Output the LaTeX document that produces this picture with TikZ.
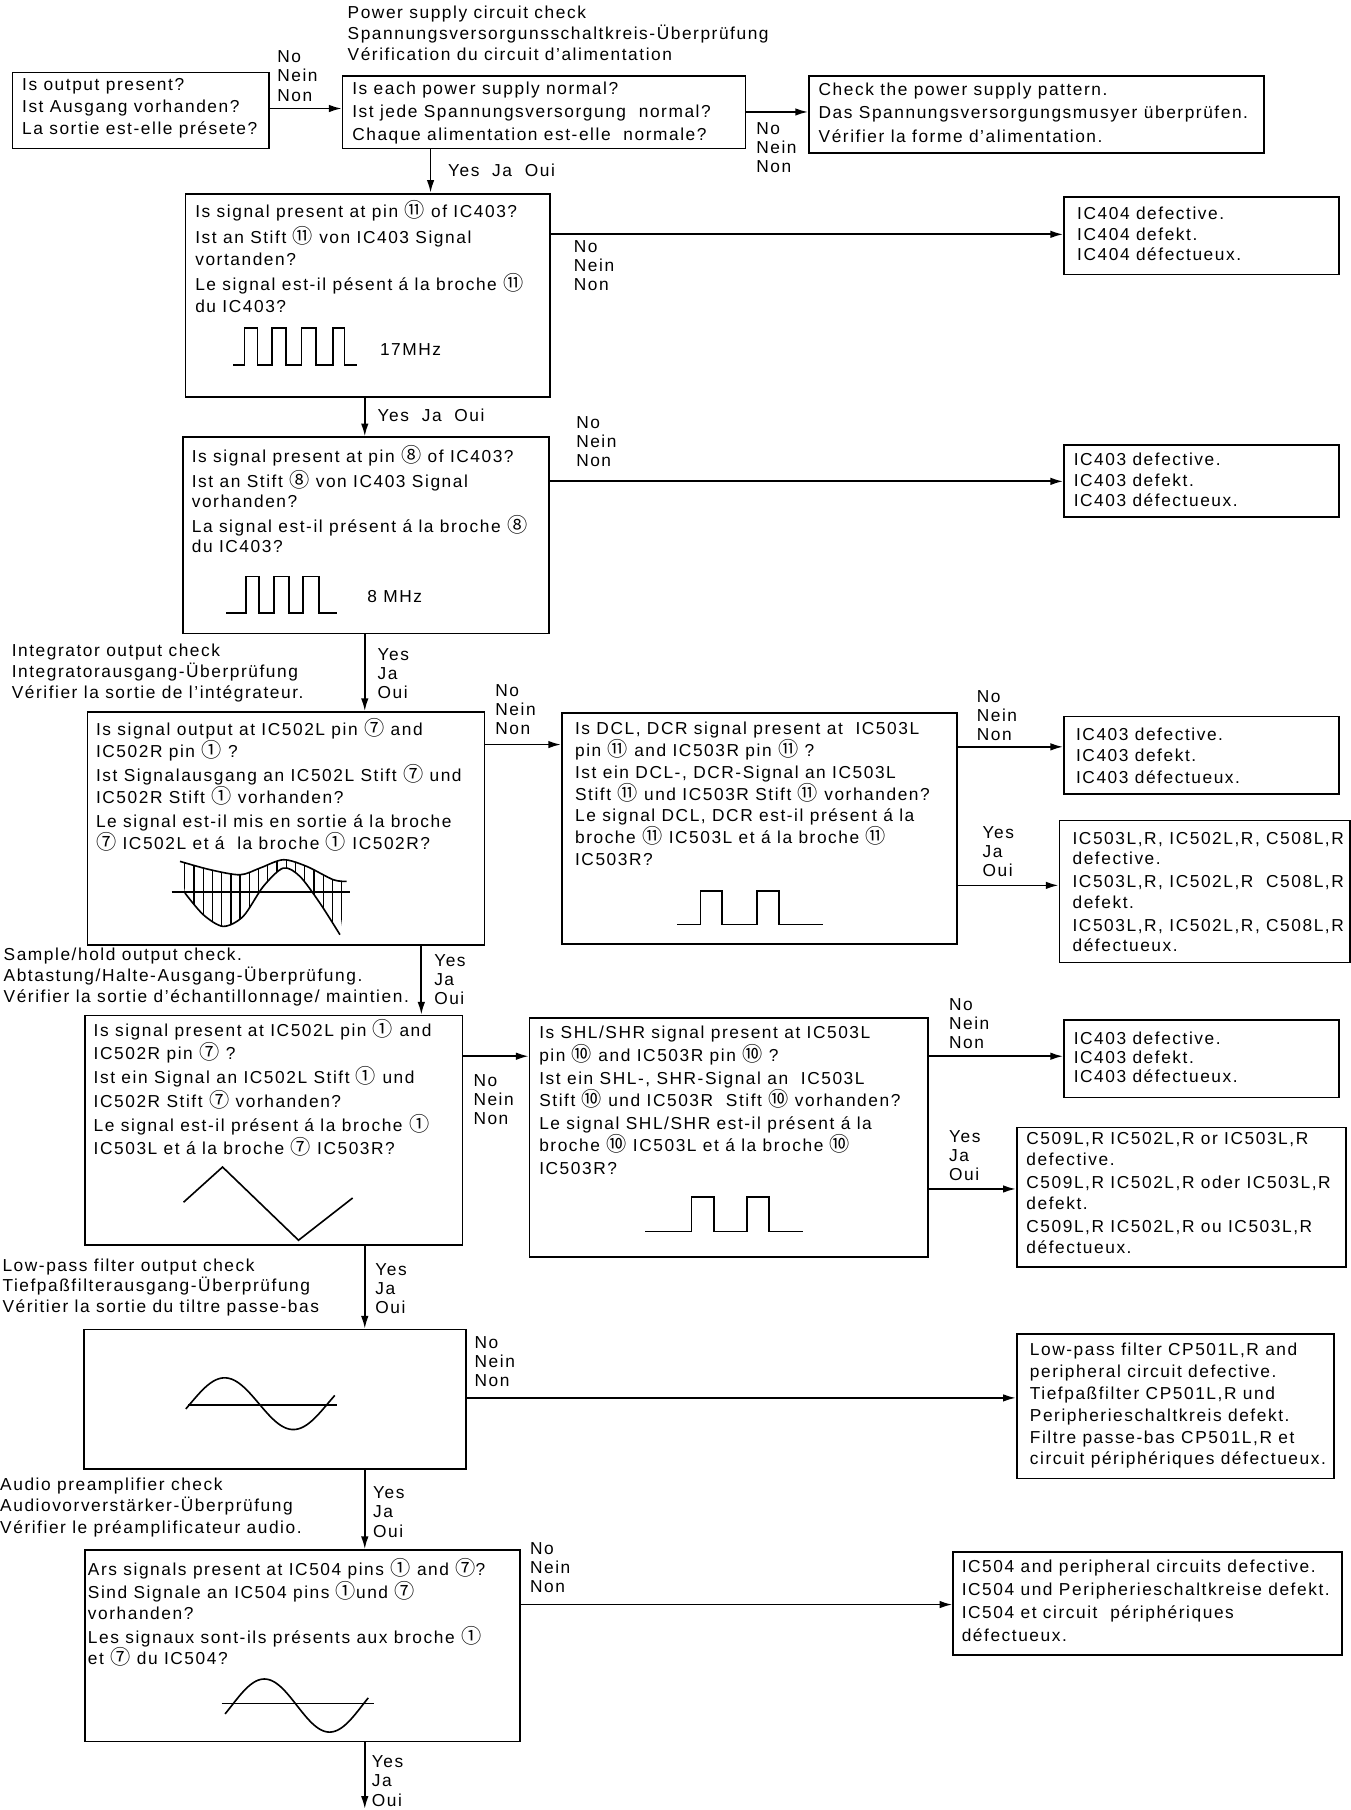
\documentclass[tikz,border=0pt]{standalone}
\usepackage{fontspec}
\setmainfont[LetterSpace=9]{Liberation Sans}
\newfontfamily\circfont{Noto Sans CJK JP}
\usetikzlibrary{arrows.meta}
\newcommand\pin[1]{{\circfont\fontsize{17.5}{17.5}\selectfont #1}}
\tikzset{>={Latex[length=11pt,width=6.5pt]}}

\begin{document}
\begin{tikzpicture}[x=1pt,y=-1pt,
    box/.style={draw, line width=1.5pt, anchor=north west, inner sep=0pt},
    txt/.style={anchor=north west, inner sep=0pt, align=left, font=\fontsize{15}{19}\selectfont},
    lbl/.style={anchor=north west, inner sep=0pt, align=left, font=\fontsize{15}{16.5}\selectfont},
    flow/.style={->, line width=1.5pt},
    wave/.style={line width=1.4pt}]
    \useasboundingbox (0,0) rectangle (1170,1568);

    % boxes
    \node[box, minimum width=222pt, minimum height=66pt] (A) at (10,62) {};
    \node[box, minimum width=349pt, minimum height=63pt] (B) at (296,65) {};
    \node[box, minimum width=394pt, minimum height=67pt] (P) at (700,65) {};
    \node[box, minimum width=316pt, minimum height=176pt] (Q1) at (160,167) {};
    \node[box, minimum width=238pt, minimum height=67pt] (D1) at (921,170) {};
    \node[box, minimum width=317pt, minimum height=170pt] (Q2) at (158,378) {};
    \node[box, minimum width=238pt, minimum height=62pt] (D2) at (921,385) {};
    \node[box, minimum width=344pt, minimum height=202pt] (Q3) at (75,616) {};
    \node[box, minimum width=342pt, minimum height=200pt] (DC) at (486,617) {};
    \node[box, minimum width=238pt, minimum height=67pt] (D3) at (921,620) {};
    \node[box, minimum width=252pt, minimum height=123pt] (D4) at (917,710) {};
    \node[box, minimum width=327pt, minimum height=199pt] (Q4) at (73,879) {};
    \node[box, minimum width=345pt, minimum height=207pt] (SH) at (458,881) {};
    \node[box, minimum width=238pt, minimum height=67pt] (D5) at (921,883) {};
    \node[box, minimum width=285pt, minimum height=121pt] (D6) at (880,976) {};
    \node[box, minimum width=331pt, minimum height=121pt] (LP) at (72,1151) {};
    \node[box, minimum width=275pt, minimum height=125pt] (D7) at (880,1155) {};
    \node[box, minimum width=377pt, minimum height=166pt] (Q6) at (73,1342) {};
    \node[box, minimum width=337pt, minimum height=89pt] (D8) at (825,1344) {};

    % texts in the boxes
    \node[txt] (At) at (19,68) {Is output present?\\Ist Ausgang vorhanden?\\La sortie est-elle présete?};
    \node[txt, font=\fontsize{15}{20}\selectfont] (Bt) at (305,71) {Is each power supply normal?\\Ist jede Spannungsversorgung\ \ normal?\\Chaque alimentation est-elle\ \ normale?};
    \node[txt, font=\fontsize{15}{20}\selectfont] (Pt) at (709,72) {Check the power supply pattern.\\Das Spannungsversorgungsmusyer überprüfen.\\Vérifier la forme d’alimentation.};
    \node[txt] (Q1t) at (169,173) {Is signal present at pin \pin{⑪} of IC403?\\[4pt]Ist an Stift \pin{⑪} von IC403 Signal\\vortanden?\\[3pt]Le signal est-il pésent á la broche \pin{⑪}\\du IC403?};
    \node[txt, anchor=west] (f1) at (329,303) {17MHz};
    \node[txt, font=\fontsize{15}{18}\selectfont] (D1t) at (933,179) {IC404 defective.\\IC404 defekt.\\IC404 défectueux.};
    \node[txt, font=\fontsize{15}{18}\selectfont] (Q2t) at (166,386) {Is signal present at pin \pin{⑧} of IC403?\\[3pt]Ist an Stift \pin{⑧} von IC403 Signal\\vorhanden?\\[3pt]La signal est-il présent á la broche \pin{⑧}\\du IC403?};
    \node[txt, anchor=west] (f2) at (318,517) {8 MHz};
    \node[txt, font=\fontsize{15}{18}\selectfont] (D2t) at (930,392) {IC403 defective.\\IC403 defekt.\\IC403 défectueux.};
    \node[txt] (Q3t) at (83,622) {Is signal output at IC502L pin \pin{⑦} and\\IC502R pin \pin{①} ?\\[2pt]Ist Signalausgang an IC502L Stift \pin{⑦} und\\IC502R Stift \pin{①} vorhanden?\\[2pt]Le signal est-il mis en sortie á la broche\\\pin{⑦} IC502L et á\ \ la broche \pin{①} IC502R?};
    \node[txt] (DCt) at (498,625) {Is DCL, DCR signal present at\ \ IC503L\\pin \pin{⑪} and IC503R pin \pin{⑪} ?\\Ist ein DCL-, DCR-Signal an IC503L\\Stift \pin{⑪} und IC503R Stift \pin{⑪} vorhanden?\\Le signal DCL, DCR est-il présent á la\\broche \pin{⑪} IC503L et á la broche \pin{⑪}\\IC503R?};
    \node[txt] (D3t) at (932,630) {IC403 defective.\\IC403 defekt.\\IC403 défectueux.};
    \node[txt, font=\fontsize{15}{17.5}\selectfont] (D4t) at (929,721) {IC503L,R, IC502L,R, C508L,R\\defective.\\[2.5pt]IC503L,R, IC502L,R\ \ C508L,R\\defekt.\\[2.5pt]IC503L,R, IC502L,R, C508L,R\\défectueux.};
    \node[txt, font=\fontsize{15}{20}\selectfont] (Q4t) at (81,883) {Is signal present at IC502L pin \pin{①} and\\IC502R pin \pin{⑦} ?\\[1pt]Ist ein Signal an IC502L Stift \pin{①} und\\IC502R Stift \pin{⑦} vorhanden?\\[1pt]Le signal est-il présent á la broche \pin{①}\\IC503L et á la broche \pin{⑦} IC503R?};
    \node[txt, font=\fontsize{15}{19.5}\selectfont] (SHt) at (467,889) {Is SHL/SHR signal present at IC503L\\pin \pin{⑩} and IC503R pin \pin{⑩} ?\\Ist ein SHL-, SHR-Signal an\ \ IC503L\\Stift \pin{⑩} und IC503R\ \ Stift \pin{⑩} vorhanden?\\Le signal SHL/SHR est-il présent á la\\broche \pin{⑩} IC503L et á la broche \pin{⑩}\\IC503R?};
    \node[txt, font=\fontsize{15}{16.5}\selectfont] (D5t) at (930,894) {IC403 defective.\\IC403 defekt.\\IC403 défectueux.};
    \node[txt, font=\fontsize{15}{18}\selectfont] (D6t) at (889,981) {C509L,R IC502L,R or IC503L,R\\defective.\\[2pt]C509L,R IC502L,R oder IC503L,R\\defekt.\\[2pt]C509L,R IC502L,R ou IC503L,R\\défectueux.};
    \node[txt] (D7t) at (892,1163) {Low-pass filter CP501L,R and\\peripheral circuit defective.\\Tiefpaßfilter CP501L,R und\\Peripherieschaltkreis defekt.\\Filtre passe-bas CP501L,R et\\circuit périphériques défectueux.};
    \node[txt, font=\fontsize{15}{18}\selectfont] (Q6t) at (76,1350) {Ars signals present at IC504 pins \pin{①} and \pin{⑦}?\\[2pt]Sind Signale an IC504 pins \pin{①}und \pin{⑦}\\vorhanden?\\[3pt]Les signaux sont-ils présents aux broche \pin{①}\\et \pin{⑦} du IC504?};
    \node[txt, font=\fontsize{15}{20}\selectfont] (D8t) at (833,1351) {IC504 and peripheral circuits defective.\\IC504 und Peripherieschaltkreise defekt.\\IC504 et circuit\ \ périphériques\\défectueux.};

    % section titles
    \node[txt, font=\fontsize{15}{18}\selectfont] (h1) at (301,5) {Power supply circuit check\\Spannungsversorgunsschaltkreis-Überprüfung\\Vérification du circuit d’alimentation};
    \node[txt, font=\fontsize{15}{18}\selectfont] (h2) at (10,558) {Integrator output check\\Integratorausgang-Überprüfung\\Vérifier la sortie de l’intégrateur.};
    \node[txt, font=\fontsize{15}{18}\selectfont] (h3) at (3,821) {Sample/hold output check.\\Abtastung/Halte-Ausgang-Überprüfung.\\Vérifier la sortie d’échantillonnage/ maintien.};
    \node[txt, font=\fontsize{15}{18}\selectfont] (h4) at (2,1090) {Low-pass filter output check\\Tiefpaßfilterausgang-Überprüfung\\Véritier la sortie du tiltre passe-bas};
    \node[txt, font=\fontsize{15}{18.5}\selectfont] (h5) at (0,1280) {Audio preamplifier check\\Audiovorverstärker-Überprüfung\\Vérifier le préamplificateur audio.};

    % yes / no labels
    \node[lbl] (nA) at (240,44) {No\\Nein\\Non};
    \node[lbl] (nB) at (655,106) {No\\Nein\\Non};
    \node[lbl] (yB) at (388,142) {Yes\ \ Ja\ \ Oui};
    \node[lbl] (nQ1) at (497,208) {No\\Nein\\Non};
    \node[lbl] (yQ1) at (327,354) {Yes\ \ Ja\ \ Oui};
    \node[lbl] (nQ2) at (499,361) {No\\Nein\\Non};
    \node[lbl] (yQ2) at (327,562) {Yes\\Ja\\Oui};
    \node[lbl] (nQ3) at (429,593) {No\\Nein\\Non};
    \node[lbl] (nDC) at (846,598) {No\\Nein\\Non};
    \node[lbl] (yDC) at (851,716) {Yes\\Ja\\Oui};
    \node[lbl] (yQ3) at (376,827) {Yes\\Ja\\Oui};
    \node[lbl] (nQ4) at (410,931) {No\\Nein\\Non};
    \node[lbl] (nSH) at (822,865) {No\\Nein\\Non};
    \node[lbl] (ySH) at (822,979) {Yes\\Ja\\Oui};
    \node[lbl] (yQ4) at (325,1094) {Yes\\Ja\\Oui};
    \node[lbl] (nLP) at (411,1158) {No\\Nein\\Non};
    \node[lbl] (yLP) at (323,1288) {Yes\\Ja\\Oui};
    \node[lbl] (nQ6) at (459,1336) {No\\Nein\\Non};
    \node[lbl] (yQ6) at (322,1521) {Yes\\Ja\\Oui};

    % rows and columns of the connectors
    \coordinate (r1) at (0,94);
    \coordinate (r2) at (0,97);
    \coordinate (r3) at (0,203);
    \coordinate (r4) at (0,417);
    \coordinate (r5) at (0,645);
    \coordinate (r6) at (0,647);
    \coordinate (r7) at (0,767);
    \coordinate (r8) at (0,915);
    \coordinate (r9) at (0,1030);
    \coordinate (r10) at (0,1211);
    \coordinate (r11) at (0,1390);
    \coordinate (c1) at (373,0);
    \coordinate (c2) at (316,0);
    \coordinate (c3) at (365,0);
    \coordinate (fin) at (316,1567);

    \draw[flow] (A.east |- r1) -- (B.west |- r1);
    \draw[flow] (B.east |- r2) -- (P.west |- r2);
    \draw[flow] (B.south -| c1) -- (Q1.north -| c1);
    \draw[flow] (Q1.east |- r3) -- (D1.west |- r3);
    \draw[flow] (Q1.south -| c2) -- (Q2.north -| c2);
    \draw[flow] (Q2.east |- r4) -- (D2.west |- r4);
    \draw[flow] (Q2.south -| c2) -- (Q3.north -| c2);
    \draw[flow] (Q3.east |- r5) -- (DC.west |- r5);
    \draw[flow] (DC.east |- r6) -- (D3.west |- r6);
    \draw[flow] (DC.east |- r7) -- (D4.west |- r7);
    \draw[flow] (Q3.south -| c3) -- (Q4.north -| c3);
    \draw[flow] (Q4.east |- r8) -- (SH.west |- r8);
    \draw[flow] (SH.east |- r8) -- (D5.west |- r8);
    \draw[flow] (SH.east |- r9) -- (D6.west |- r9);
    \draw[flow] (Q4.south -| c2) -- (LP.north -| c2);
    \draw[flow] (LP.east |- r10) -- (D7.west |- r10);
    \draw[flow] (LP.south -| c2) -- (Q6.north -| c2);
    \draw[flow] (Q6.east |- r11) -- (D8.west |- r11);
    \draw[flow] (Q6.south -| c2) -- (fin);

    % waveforms
    \draw[wave] (202,316) -| (211.8,284.4) -| (223.1,316) -| (235.4,284.4) -| (247.7,316)
        -| (261.3,284.4) -| (273.7,316) -| (288.3,284.4) -| (298.6,316) -- (309,316);
    \draw[wave] (196,531) -| (213,499.4) -| (224.4,531) -| (237.4,499.4) -| (250.4,531)
        -| (262.7,499.4) -| (276.3,531) -- (291.8,531);
    \begin{scope}
        \clip plot[smooth] coordinates {(155.9,746.2) (181.9,753.4) (207.9,757.8) (225.2,752) (245.4,744.8) (265.6,750.5) (288.7,762.1) (300.2,763.5)}
            -- plot[smooth] coordinates {(294.5,809.7) (277.1,782.3) (259.8,759.2) (245.4,752) (228.1,767.9) (210.7,793.8) (193.4,802.5) (176.1,792.4) (160.2,773.6)} -- cycle;
        \foreach \x in {160,168,...,296}
            \draw[line width=1.1pt] (\x,735) -- (\x,815);
    \end{scope}
    \draw[wave] plot[smooth] coordinates {(155.9,746.2) (181.9,753.4) (207.9,757.8) (225.2,752) (245.4,744.8) (265.6,750.5) (288.7,762.1) (300.2,763.5)};
    \draw[wave] plot[smooth] coordinates {(160.2,773.6) (176.1,792.4) (193.4,802.5) (210.7,793.8) (228.1,767.9) (245.4,752) (259.8,759.2) (277.1,782.3) (294.5,809.7)};
    \draw[line width=1.2pt] (148.7,772.8) -- (303,772.8);
    \draw[wave] (586.6,801) -| (606.7,771.7) -| (625.5,801) -| (655.9,771.7) -| (674.6,801) -- (713,801);
    \draw[wave] (159,1041.5) -- (192.8,1011) -- (258.6,1074.4) -- (305.5,1037.8);
    \draw[wave] (559,1066.7) -| (599,1037) -| (618.5,1066.7) -| (647,1037) -| (666,1066.7) -- (696,1066.7);
    \draw[wave] plot[domain=161:290, samples=70] (\x, {1216-22.4*cos(3.0252*(\x-194.6))});
    \draw[line width=1.2pt] (163,1217) -- (292,1217);
    \draw[wave] plot[domain=195:319, samples=70] (\x, {1477.5-23*cos(3.1858*(\x-229))});
    \draw[line width=1.2pt] (192,1475.7) -- (324,1475.7);
\end{tikzpicture}
\end{document}
